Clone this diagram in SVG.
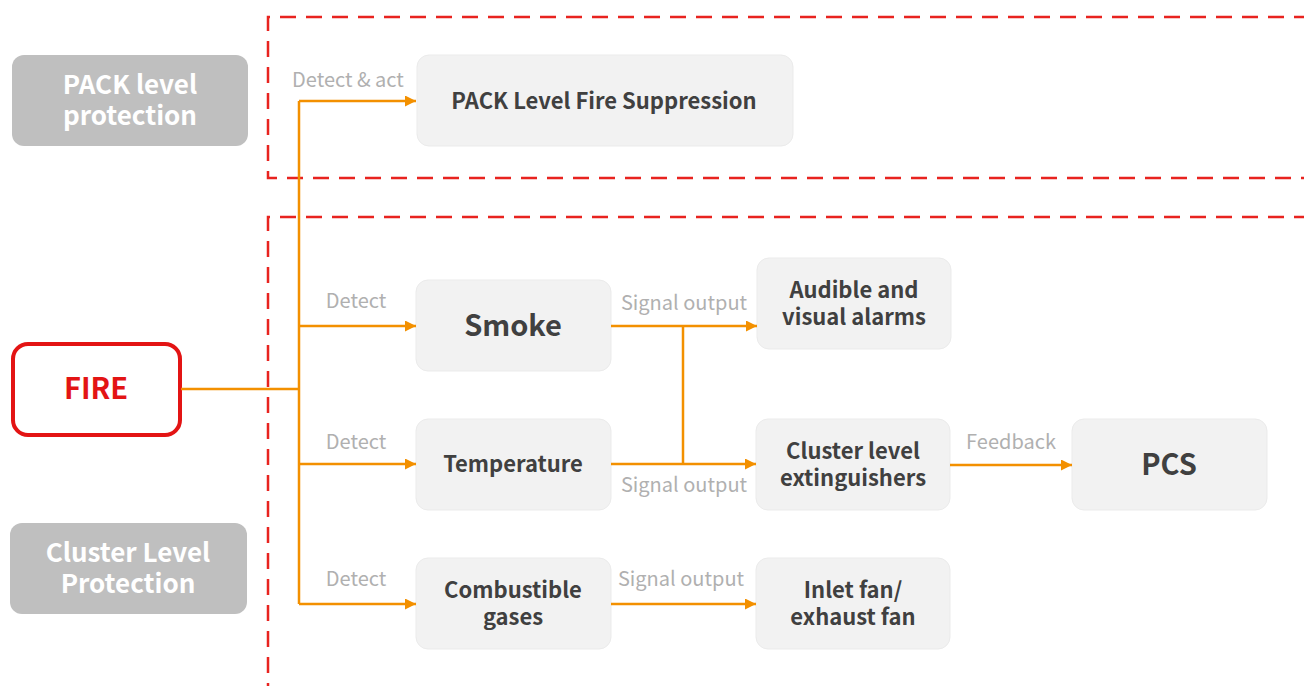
<svg xmlns="http://www.w3.org/2000/svg" width="1304" height="686" viewBox="0 0 1304 686">
<style>
.zone{fill:none;stroke:#e8231f;stroke-width:2.5;stroke-dasharray:16,10}
.lvl{fill:#bfbfbf}
.lvlt{font-family:"Noto Sans CJK SC",Lato,sans-serif;font-weight:bold;font-size:26px;fill:#ffffff;text-anchor:middle}
.box{fill:#f2f2f2;stroke:#ebebeb;stroke-width:1}
.bt{font-family:"Noto Sans CJK SC",Lato,sans-serif;font-weight:bold;font-size:22px;fill:#404040;text-anchor:middle}
.big{font-size:29px}
.lab{font-family:"Noto Sans CJK SC",Lato,sans-serif;font-size:20px;fill:#b0b0b0;text-anchor:middle}
.con{fill:none;stroke:#f39000;stroke-width:2.5}
</style>
<defs>
<marker id="ah" viewBox="0 0 10 10" refX="10" refY="5" markerWidth="4.4" markerHeight="4.4" orient="auto" markerUnits="strokeWidth">
<path d="M0,0 L10,5 L0,10 z" fill="#f39000"/>
</marker>
</defs>
<g id="zones">
<path class="zone" d="M1310,17 H268 V178 H1310"/>
<path class="zone" d="M1310,217 H268 V690"/>
</g>
<g id="pack-level">
<rect class="lvl" x="12" y="55" width="236" height="91" rx="12"/>
<text class="lvlt" x="130" y="94">PACK level</text>
<text class="lvlt" x="130" y="125">protection</text>
</g>
<g id="cluster-level">
<rect class="lvl" x="10" y="523" width="237" height="91" rx="12"/>
<text class="lvlt" x="128" y="562">Cluster Level</text>
<text class="lvlt" x="128" y="593">Protection</text>
</g>
<g id="fire">
<rect x="13" y="344" width="167" height="91" rx="15" fill="#ffffff" stroke="#e31414" stroke-width="4"/>
<text x="96" y="399" font-family="'Noto Sans CJK SC',Lato,sans-serif" font-weight="bold" font-size="29" fill="#e31414" text-anchor="middle">FIRE</text>
</g>
<g id="pack-suppression">
<rect class="box" x="417" y="55" width="376" height="91" rx="12"/>
<text class="bt" x="604" y="109">PACK Level Fire Suppression</text>
</g>
<g id="smoke">
<rect class="box" x="416" y="280" width="195" height="91" rx="12"/>
<text class="bt big" x="513" y="336">Smoke</text>
</g>
<g id="temperature">
<rect class="box" x="416" y="419" width="195" height="91" rx="12"/>
<text class="bt" x="513" y="472">Temperature</text>
</g>
<g id="gases">
<rect class="box" x="416" y="558" width="195" height="91" rx="12"/>
<text class="bt" x="513" y="598">Combustible</text>
<text class="bt" x="513" y="625">gases</text>
</g>
<g id="alarms">
<rect class="box" x="757" y="258" width="194" height="91" rx="12"/>
<text class="bt" x="854" y="298">Audible and</text>
<text class="bt" x="854" y="325">visual alarms</text>
</g>
<g id="extinguishers">
<rect class="box" x="756" y="419" width="194" height="91" rx="12"/>
<text class="bt" x="853" y="459">Cluster level</text>
<text class="bt" x="853" y="486">extinguishers</text>
</g>
<g id="fans">
<rect class="box" x="756" y="558" width="194" height="91" rx="12"/>
<text class="bt" x="853" y="598">Inlet fan/</text>
<text class="bt" x="853" y="625">exhaust fan</text>
</g>
<g id="pcs">
<rect class="box" x="1072" y="419" width="195" height="91" rx="12"/>
<text class="bt big" x="1169" y="475">PCS</text>
</g>
<g id="connectors">
<path class="con" d="M181,389 H299"/>
<path class="con" d="M299,604 V101"/>
<path class="con" d="M299,101 H416" marker-end="url(#ah)"/>
<path class="con" d="M299,326 H416" marker-end="url(#ah)"/>
<path class="con" d="M299,464 H416" marker-end="url(#ah)"/>
<path class="con" d="M299,604 H416" marker-end="url(#ah)"/>
<path class="con" d="M611,326 H757" marker-end="url(#ah)"/>
<path class="con" d="M683,326 V464"/>
<path class="con" d="M611,464 H756" marker-end="url(#ah)"/>
<path class="con" d="M950,465 H1072" marker-end="url(#ah)"/>
<path class="con" d="M611,604 H756" marker-end="url(#ah)"/>
<text class="lab" x="348" y="87">Detect &amp; act</text>
<text class="lab" x="356" y="308">Detect</text>
<text class="lab" x="356" y="449">Detect</text>
<text class="lab" x="356" y="586">Detect</text>
<text class="lab" x="684" y="310">Signal output</text>
<text class="lab" x="684" y="492">Signal output</text>
<text class="lab" x="681" y="586">Signal output</text>
<text class="lab" x="1011" y="449">Feedback</text>
</g>
</svg>
